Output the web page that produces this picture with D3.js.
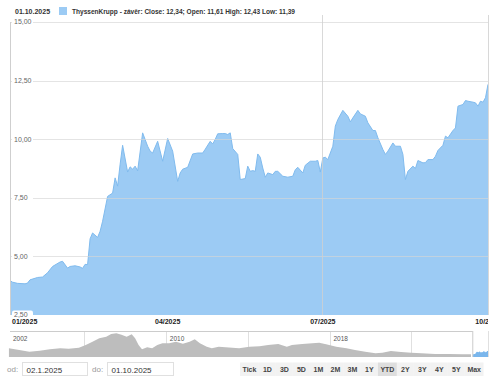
<!DOCTYPE html>
<html>
<head>
<meta charset="utf-8">
<script src="https://cdnjs.cloudflare.com/ajax/libs/d3/7.8.5/d3.min.js"></script>
<style>
  body { margin: 0; background: #fff; }
  text { font-family: "Liberation Sans", Arial, sans-serif; }
</style>
</head>
<body>
<div id="chart"></div>
<script>
// main series (trading days of 2025)
var dates = ["2025-01-02","2025-01-03","2025-01-07","2025-01-10","2025-01-13","2025-01-14","2025-01-17","2025-01-21","2025-01-23","2025-01-27","2025-01-30","2025-01-31",
  "2025-02-04","2025-02-05","2025-02-07","2025-02-11","2025-02-12","2025-02-13","2025-02-14","2025-02-17","2025-02-18","2025-02-20","2025-02-21","2025-02-24","2025-02-26","2025-02-28",
  "2025-03-03","2025-03-04","2025-03-05","2025-03-06","2025-03-10","2025-03-11","2025-03-12","2025-03-13","2025-03-14","2025-03-18","2025-03-20","2025-03-21","2025-03-24","2025-03-26","2025-03-28",
  "2025-04-01","2025-04-03","2025-04-07","2025-04-08","2025-04-09","2025-04-11","2025-04-15","2025-04-17","2025-04-23","2025-04-24","2025-04-28","2025-04-29","2025-04-30",
  "2025-05-02","2025-05-06","2025-05-07","2025-05-08","2025-05-09","2025-05-12","2025-05-14","2025-05-15","2025-05-19","2025-05-20","2025-05-21","2025-05-22","2025-05-23","2025-05-26","2025-05-27","2025-05-28","2025-05-29","2025-05-30",
  "2025-06-03","2025-06-04","2025-06-05","2025-06-09","2025-06-11","2025-06-13","2025-06-16","2025-06-17","2025-06-19","2025-06-20","2025-06-24","2025-06-26","2025-06-27","2025-06-30",
  "2025-07-01","2025-07-02","2025-07-03","2025-07-07","2025-07-08","2025-07-09","2025-07-11","2025-07-15","2025-07-16","2025-07-17","2025-07-21","2025-07-22","2025-07-24","2025-07-25","2025-07-29","2025-07-30","2025-07-31",
  "2025-08-04","2025-08-05","2025-08-06","2025-08-08","2025-08-11","2025-08-13","2025-08-14","2025-08-15","2025-08-18","2025-08-20","2025-08-21","2025-08-22","2025-08-26","2025-08-27","2025-08-28",
  "2025-09-01","2025-09-02","2025-09-03","2025-09-05","2025-09-08","2025-09-09","2025-09-11","2025-09-12","2025-09-15","2025-09-17","2025-09-18","2025-09-19","2025-09-23","2025-09-24","2025-09-25","2025-09-26","2025-09-29","2025-09-30",
  "2025-10-01"];
var closes = [3.97,3.90,3.85,3.83,3.86,4.00,4.10,4.12,4.30,4.57,4.76,4.79,
  4.50,4.57,4.60,4.55,4.49,4.66,4.65,5.75,6.00,5.81,6.07,6.50,7.56,7.70,
  8.35,8.00,8.93,9.74,8.60,8.82,8.72,8.85,8.65,10.27,9.70,9.49,9.41,9.91,9.06,
  10.03,9.49,8.20,8.56,8.72,8.80,9.37,9.41,9.41,9.57,9.91,9.80,9.99,
  10.23,10.24,10.24,10.20,10.27,9.60,9.35,8.28,8.32,8.85,8.63,8.66,8.63,9.37,9.23,8.77,8.38,8.56,
  8.49,8.63,8.63,8.42,8.38,8.42,8.70,8.80,8.56,8.89,9.06,9.06,9.09,8.60,
  9.20,9.23,9.13,9.70,10.56,10.84,11.23,10.98,10.74,10.91,11.23,11.08,10.98,10.70,10.37,10.37,10.06,
  9.56,9.35,9.49,9.84,9.70,9.70,9.35,8.28,8.63,8.85,8.75,9.09,8.99,9.00,9.13,
  9.13,9.27,9.52,9.74,10.13,10.06,10.37,10.48,11.41,11.48,11.65,11.62,11.58,11.55,11.41,11.62,11.58,11.77,
  12.34];
var holidays = ["2025-04-18","2025-04-21","2025-05-01"];

var yTicks = [2.5, 5, 7.5, 10, 12.5, 15];
var xTickMonths = ["2025-01-02","2025-04-01","2025-07-01","2025-10-01"];

// navigator history
var navDates = ["2002-05","2002-11","2003-05","2003-11","2004-05","2004-11","2005-04","2005-10","2006-02","2006-06","2006-10",
  "2007-02","2007-05","2007-08","2007-11","2008-02","2008-05","2008-07","2008-09","2008-11","2009-02","2009-05","2009-08","2009-11",
  "2010-03","2010-07","2010-11","2011-03","2011-06","2011-09","2012-01","2012-04","2012-08","2013-02","2013-08","2014-02","2014-08",
  "2015-01","2015-07","2015-12","2016-03","2016-09","2017-03","2017-07","2017-11","2018-05","2018-11","2019-04","2019-10",
  "2020-04","2020-08","2021-01","2021-07","2022-01","2022-07","2023-03","2023-11","2024-07","2024-12"];
var navValues = [17.8,13.9,9.9,12.3,15.5,17.8,16.9,19.2,25.5,33.2,41.1,
  44.8,51.1,52.7,49.0,44.8,50.4,41.1,25.5,15.5,20.2,17.8,25.5,29.5,
  29.5,33.2,28.5,33.2,38.8,29.5,21.6,17.8,21.6,19.9,17.8,21.6,22.4,
  25.5,27.8,21.6,25.5,27.8,29.5,30.9,27.1,21.6,17.8,13.9,9.9,
  6.2,7.6,11.6,9.2,7.6,6.2,4.6,4.6,3.9,3.9];
var navYears = [2006, 2010, 2014, 2018, 2022];
var navLabels = [2002, 2010, 2018];

var buttons = ["Tick","1D","3D","5D","1M","2M","3M","1Y","YTD","2Y","3Y","4Y","5Y","Max"];
var selectedButton = "YTD";

var width = 500, height = 388;
var plotLeft = 10, plotRight = 488, plotTop = 22, plotBottom = 315;
var blue = "#9ccbf4";

var parseDay = d3.timeParse("%Y-%m-%d");
var parseMonth = d3.timeParse("%Y-%m");
var fmtDay = d3.timeFormat("%Y-%m-%d");

// ordinal (trading day) axis like the original
var tradingDays = [];
d3.timeDay.range(parseDay("2025-01-02"), d3.timeDay.offset(parseDay("2025-10-01"), 1)).forEach(function(d){
  var wd = d.getDay();
  if (wd != 0 && wd != 6 && holidays.indexOf(fmtDay(d)) < 0) tradingDays.push(fmtDay(d));
});
function dayIndex(s){ return tradingDays.indexOf(s); }

var data = dates.map(function(d, i){ return {date: d, idx: dayIndex(d), value: closes[i]}; });

var x = d3.scaleLinear().domain([0, tradingDays.length - 1]).range([plotLeft, plotRight]);
var y = d3.scaleLinear().domain([2.5, 15]).range([plotBottom, plotTop]);

var svg = d3.select("#chart").append("svg")
  .attr("width", width).attr("height", height);

svg.append("rect").attr("width", width).attr("height", height).attr("fill", "#fff");

// header
svg.append("text").attr("x", 15).attr("y", 13.5)
  .attr("font-size", 7).attr("font-weight", "bold").attr("fill", "#333")
  .text("01.10.2025");
svg.append("rect").attr("x", 59).attr("y", 7).attr("width", 8).attr("height", 8).attr("fill", blue);
svg.append("text").attr("x", 72).attr("y", 13.5)
  .attr("font-size", 7).attr("font-weight", "bold").attr("fill", "#333")
  .attr("textLength", 223).attr("lengthAdjust", "spacingAndGlyphs")
  .text("ThyssenKrupp - závěr: Close: 12,34; Open: 11,61 High: 12,43 Low: 11,39");

// area
var area = d3.area()
  .x(function(d){ return x(d.idx); })
  .y0(plotBottom)
  .y1(function(d){ return y(d.value); });
var line = d3.line()
  .x(function(d){ return x(d.idx); })
  .y(function(d){ return y(d.value); });

svg.append("path").datum(data).attr("d", area).attr("fill", blue);
svg.append("path").datum(data).attr("d", line)
  .attr("fill", "none").attr("stroke", "#80bbee").attr("stroke-width", 1);

// grid lines over the area
svg.selectAll(".hgrid").data(yTicks.slice(1)).enter().append("line")
  .attr("x1", plotLeft).attr("x2", plotRight)
  .attr("y1", function(d){ return Math.round(y(d)) + 0.5; })
  .attr("y2", function(d){ return Math.round(y(d)) + 0.5; })
  .attr("stroke", "#d6d6d6").attr("stroke-opacity", 0.65);

var gridTicks = [xTickMonths[2]];
svg.selectAll(".vgrid").data(gridTicks).enter().append("line")
  .attr("x1", function(d){ return Math.round(x(dayIndex(d))) - 0.5; })
  .attr("x2", function(d){ return Math.round(x(dayIndex(d))) - 0.5; })
  .attr("y1", 15).attr("y2", plotBottom)
  .attr("stroke", "#d0d0d0").attr("stroke-opacity", 0.8);
svg.append("line").attr("x1", plotRight + 0.5).attr("x2", plotRight + 0.5).attr("y1", 15).attr("y2", plotBottom)
  .attr("stroke", "#d8d8d8");
svg.append("line").attr("x1", plotLeft + 0.5).attr("x2", plotLeft + 0.5).attr("y1", plotTop).attr("y2", plotBottom)
  .attr("stroke", "#cfcfcf");

// y labels with white boxes
var fmtNum = function(v){ return v.toFixed(2).replace(".", ","); };
var yl = svg.selectAll(".ylab").data(yTicks).enter().append("g")
  .attr("transform", function(d){ return "translate(0," + y(d) + ")"; });
yl.append("rect").attr("x", 12).attr("y", -4.5).attr("width", 21).attr("height", 9)
  .attr("rx", 2).attr("fill", "#fff");
yl.append("text").attr("x", 14).attr("dy", "0.35em")
  .attr("font-size", 7).attr("fill", "#666")
  .text(fmtNum);

// x labels
svg.append("clipPath").attr("id", "xclip").append("rect")
  .attr("x", 0).attr("y", 300).attr("width", plotRight).attr("height", 40);
var fmtTick = d3.timeFormat("%m/%Y");
svg.append("g").attr("clip-path", "url(#xclip)")
  .selectAll("text").data(xTickMonths).enter().append("text")
  .attr("x", function(d, i){ return i == 0 ? 12 : x(dayIndex(d)); })
  .attr("y", 324)
  .attr("text-anchor", function(d, i){ return i == 0 ? "start" : "middle"; })
  .attr("font-size", 7).attr("font-weight", "bold").attr("fill", "#222")
  .text(function(d){ return fmtTick(parseDay(d)); });

// navigator
var navTop = 331, navBottom = 357;
var nx = d3.scaleTime().domain([parseDay("2002-05-20"), parseDay("2025-10-01")]).range([plotLeft, plotRight]);
var ny = d3.scaleLinear().domain([-2.4, 58]).range([navBottom, navTop]);
var navData = navDates.map(function(d, i){ return {date: parseMonth(d), value: navValues[i]}; });

svg.selectAll(".navgrid").data(navYears).enter().append("line")
  .attr("x1", function(d){ return Math.round(nx(new Date(d, 0, 1))) + 0.5; })
  .attr("x2", function(d){ return Math.round(nx(new Date(d, 0, 1))) + 0.5; })
  .attr("y1", navTop).attr("y2", navBottom)
  .attr("stroke", "#e0e0e0");

svg.append("path").datum(navData)
  .attr("d", d3.area().x(function(d){ return nx(d.date); }).y0(navBottom).y1(function(d){ return ny(d.value); }))
  .attr("fill", "#bdbdbd");

svg.append("path").datum(data)
  .attr("d", d3.area().x(function(d){ return nx(parseDay(d.date)); }).y0(navBottom).y1(function(d){ return ny(d.value); }))
  .attr("fill", "#7ab6ec");

var selX = nx(parseDay(dates[0]));
svg.append("line").attr("x1", plotLeft).attr("x2", selX).attr("y1", navTop + 0.5).attr("y2", navTop + 0.5)
  .attr("stroke", "#cccccc");
svg.append("line").attr("x1", selX).attr("x2", selX).attr("y1", navTop).attr("y2", navBottom)
  .attr("stroke", "#cccccc");
svg.append("line").attr("x1", plotRight + 0.5).attr("x2", plotRight + 0.5).attr("y1", navTop).attr("y2", navBottom)
  .attr("stroke", "#e0e0e0");

svg.selectAll(".navlab").data(navLabels).enter().append("text")
  .attr("x", function(d){ return Math.max(nx(new Date(d, 0, 1)) + 4, 13); })
  .attr("y", 340.5)
  .attr("font-size", 6.5).attr("fill", "#555")
  .text(function(d){ return d; });

// date inputs
function dateInput(label, lx, bx, bw, value){
  svg.append("text").attr("x", lx).attr("y", 372).attr("font-size", 8).attr("fill", "#999").text(label);
  svg.append("rect").attr("x", bx + 0.5).attr("y", 362.5).attr("width", bw).attr("height", 13)
    .attr("fill", "#fff").attr("stroke", "#e0e0e0");
  svg.append("text").attr("x", bx + 4.5).attr("y", 372.5).attr("font-size", 8).attr("fill", "#333").text(value);
}
dateInput("od:", 7, 22, 65, "02.1.2025");
dateInput("do:", 92, 107, 66, "01.10.2025");

// range buttons
var bx = 240;
var bg = svg.append("g");
buttons.forEach(function(b){
  var t = bg.append("text").attr("y", 372).attr("font-size", 7).attr("font-weight", "bold")
    .attr("fill", "#444").attr("text-anchor", "middle").text(b);
  var w = Math.max(t.node().getComputedTextLength() + 5, 17);
  bg.insert("rect", "text").attr("x", bx).attr("y", 362.5).attr("width", w).attr("height", 13.5)
    .attr("fill", b == selectedButton ? "#dedede" : "#f2f2f2");
  t.attr("x", bx + w / 2);
  bx += w;
});
</script>
</body>
</html>
